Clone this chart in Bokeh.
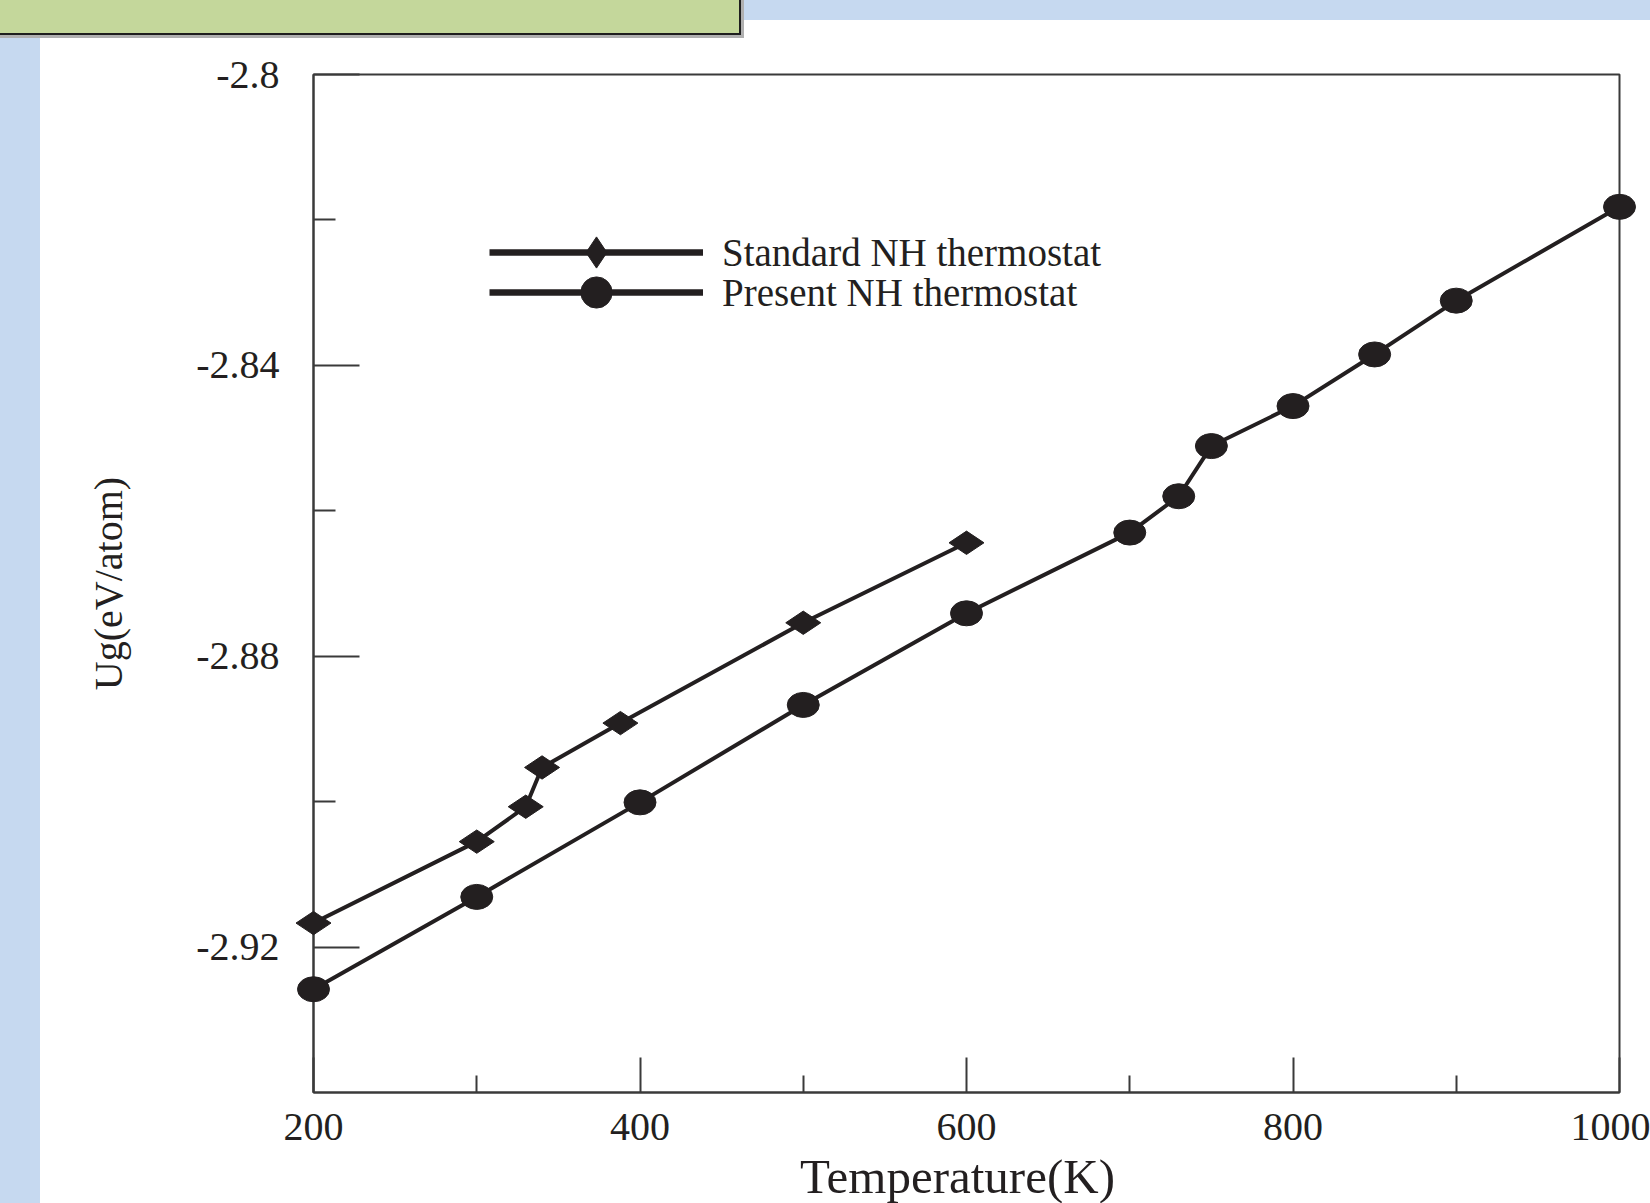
import numpy as np
from bokeh.plotting import figure
from bokeh.models import FixedTicker, Legend, LegendItem
from bokeh.core.properties import value
from bokeh.embed import file_html
from bokeh.resources import INLINE

# ---- data ----
temp_standard = [200, 300, 330, 340, 388, 500, 600]
ug_standard = [-2.9167, -2.9055, -2.9007, -2.8953, -2.8892, -2.8754, -2.8644]

temp_present = [200, 300, 400, 500, 600, 700, 730, 750, 800, 850, 900, 1000]
ug_present = [-2.9258, -2.9131, -2.9001, -2.8867, -2.8741, -2.8630,
              -2.8580, -2.8511, -2.8456, -2.8385, -2.8311, -2.8182]

series_names = ["Standard NH thermostat", "Present NH thermostat"]

x_ticks = [200, 400, 600, 800, 1000]
x_minor_ticks = [300, 500, 700, 900]
y_ticks = [-2.8, -2.84, -2.88, -2.92]
y_tick_labels = ["-2.8", "-2.84", "-2.88", "-2.92"]
y_minor_ticks = [-2.82, -2.86, -2.9]

x_range = (200, 1000)
y_range = (-2.94, -2.8)
x_title = "Temperature(K)"
y_title = "Ug(eV/atom)"

INK = "#231f20"
AXC = "#3a3a3a"
FONT = "Liberation Serif"
GREEN = "#c4d79b"
BLUE = "#c6d9f0"

p = figure(width=1650, height=1203, x_range=x_range, y_range=y_range,
           output_backend="svg", toolbar_location=None,
           min_border_left=313, min_border_right=31, min_border_top=74,
           min_border_bottom=111)
p.background_fill_color = "white"
p.border_fill_alpha = 0
p.outline_line_color = AXC
p.outline_line_width = 2
p.grid.visible = False

# ---- slide decorations painted behind the (transparent) border area ----
def solid(c):
    return f"linear-gradient({c}, {c})"

p.styles = {
    "background": ", ".join([
        f"{solid(GREEN)} 0px 0px / 739px 33px no-repeat",
        f"{solid('#1e1e1e')} 0px 0px / 741px 35px no-repeat",
        f"{solid('#b0b0b0')} 0px 0px / 744px 38px no-repeat",
        f"{solid(BLUE)} 741px 0px / 909px 20px no-repeat",
        f"{solid(BLUE)} 0px 35px / 40px 1168px no-repeat",
        "#ffffff",
    ])
}

# ---- series ----
l_std = p.line(temp_standard, ug_standard, line_color=INK, line_width=4)
m_std = p.scatter(temp_standard, ug_standard, marker="diamond", angle=np.pi / 2,
                  size=35, fill_color=INK, line_color=INK, level="overlay")

l_pre = p.line(temp_present, ug_present, line_color=INK, line_width=4)
m_pre_legend = p.scatter(temp_present, ug_present, marker="circle", size=22,
                         fill_color=INK, line_color=INK, level="overlay")
m_pre = p.ellipse(temp_present, ug_present, width=32, height=25,
                  width_units="screen", height_units="screen",
                  fill_color=INK, line_color=INK, level="overlay")

# thicker line samples used only by the legend (single point: draws nothing in the plot)
key_std = p.line(temp_standard[:1], ug_standard[:1], line_color=INK, line_width=6.5)
key_pre = p.line(temp_present[:1], ug_present[:1], line_color=INK, line_width=6.5)

legend_kw = dict(glyph_width=214, glyph_height=78, spacing=0,
                 label_standoff=19, padding=0, margin=0,
                 label_text_font=FONT, label_text_font_size="39px",
                 label_text_color=INK, border_line_alpha=0,
                 background_fill_alpha=0)
leg_a = Legend(items=[LegendItem(label=series_names[0], renderers=[key_std, m_std])],
               location=(176, 801), **legend_kw)
leg_b = Legend(items=[LegendItem(label=series_names[1], renderers=[key_pre, m_pre_legend])],
               location=(176, 761), **legend_kw)
p.add_layout(leg_a)
p.add_layout(leg_b)

# ---- axes ----
for ax in (p.xaxis[0], p.yaxis[0]):
    ax.axis_line_color = AXC
    ax.axis_line_width = 2
    ax.major_tick_line_color = AXC
    ax.major_tick_line_width = 2
    ax.minor_tick_line_color = AXC
    ax.minor_tick_line_width = 2
    ax.major_tick_out = 0
    ax.minor_tick_out = 0
    ax.major_label_text_font = FONT
    ax.major_label_text_color = INK
    ax.major_label_text_font_size = "40px"
    ax.axis_label_text_font = FONT
    ax.axis_label_text_color = INK
    ax.axis_label_text_font_style = "normal"

xa = p.xaxis[0]
xa.ticker = FixedTicker(ticks=x_ticks, minor_ticks=x_minor_ticks)
xa.major_tick_in = 35
xa.minor_tick_in = 17
xa.major_label_standoff = 21

ya = p.yaxis[0]
ya.ticker = FixedTicker(ticks=y_ticks, minor_ticks=y_minor_ticks)
ya.major_label_overrides = dict(zip(y_ticks, y_tick_labels))
ya.major_tick_in = 46
ya.minor_tick_in = 22
ya.major_label_standoff = 34
ya.axis_label = y_title
ya.axis_label_text_font_size = "40px"
ya.axis_label_standoff = 62

# x-axis title, anchored under the middle of the x axis (not clipped to the frame)
p.text(x=[(x_range[0] + x_range[1]) / 2], y=[y_range[0]], text=[x_title],
       x_offset=-9, y_offset=84, text_align="center", text_baseline="alphabetic",
       text_font=value(FONT), text_font_size="49px", text_color=INK, level="overlay")

open("out.html", "w").write(file_html(p, INLINE))
